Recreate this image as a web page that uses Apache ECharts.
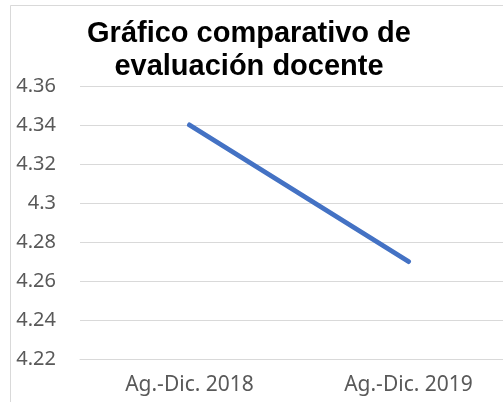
<!DOCTYPE html>
<html>
<head>
<meta charset="utf-8">
<script src="https://cdn.jsdelivr.net/npm/echarts@6/dist/echarts.min.js"></script>
<style>
html, body { margin: 0; padding: 0; background: #fff; }
#chart { width: 503px; height: 402px; }
</style>
</head>
<body>
<div id="chart"></div>
<script>
var categories = ['Ag.-Dic. 2018', 'Ag.-Dic. 2019'];
var valores = [4.34, 4.27];
var yMin = 4.22, yMax = 4.36, yStep = 0.02;

var chart = echarts.init(document.getElementById('chart'));

chart.setOption({
    backgroundColor: '#ffffff',
    animation: false,
    title: {
        text: 'Gráfico comparativo de\nevaluación docente',
        left: 244,
        textAlign: 'center',
        top: 12,
        textStyle: {
            fontFamily: 'Liberation Sans',
            fontWeight: 'bold',
            fontSize: 29,
            lineHeight: 33,
            color: '#000000'
        }
    },
    graphic: [{
        type: 'rect',
        shape: { x: 10.5, y: 5.5, width: 600, height: 500 },
        style: { fill: 'none', stroke: '#d9d9d9', lineWidth: 1 },
        silent: true
    }],
    grid: {
        left: 80,
        top: 86,
        width: 438,
        bottom: 43,
        outerBoundsMode: 'none',
        containLabel: false
    },
    xAxis: {
        type: 'category',
        data: categories,
        boundaryGap: true,
        axisLine: { lineStyle: { color: '#d9d9d9', width: 1 } },
        axisTick: { show: false },
        axisLabel: {
            color: '#595959',
            fontFamily: 'Noto Sans',
            fontSize: 21,
            margin: 16
        }
    },
    yAxis: {
        type: 'value',
        min: yMin,
        max: yMax,
        interval: yStep,
        axisLine: { show: false },
        axisTick: { show: false },
        splitLine: { lineStyle: { color: '#d9d9d9', width: 1 } },
        axisLabel: {
            color: '#595959',
            fontFamily: 'Noto Sans',
            fontSize: 20,
            margin: 24,
            formatter: function (v) { return String(+v.toFixed(2)); }
        }
    },
    series: [{
        type: 'line',
        data: valores,
        showSymbol: false,
        lineStyle: { color: '#4472c4', width: 5, cap: 'round' },
        itemStyle: { color: '#4472c4' }
    }]
});
</script>
</body>
</html>
